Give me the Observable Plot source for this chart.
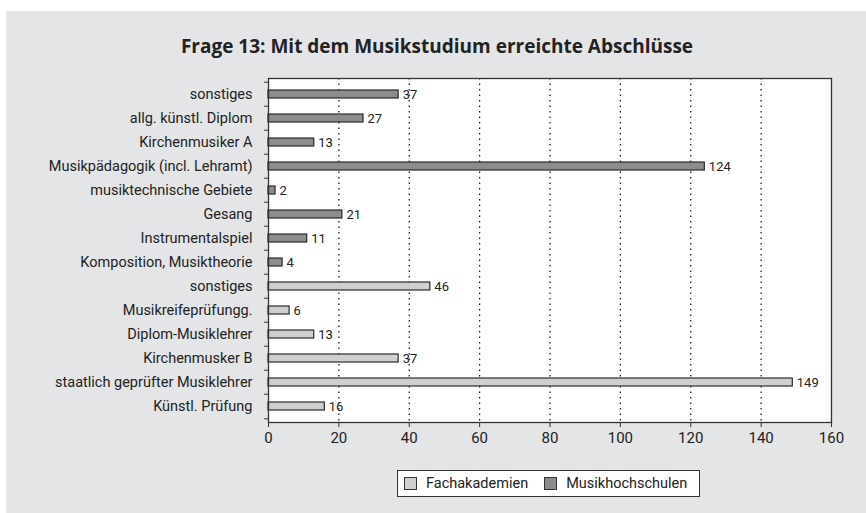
<!DOCTYPE html>
<html>
<head>
<meta charset="utf-8">
<script src="https://cdn.jsdelivr.net/npm/d3@7"></script>
<script src="https://cdn.jsdelivr.net/npm/@observablehq/plot@0.6"></script>
<style>
  html, body { margin: 0; padding: 0; background: #ffffff; width: 866px; height: 513px; overflow: hidden; }
  #panel { position: absolute; left: 6px; top: 11px; width: 860px; height: 502px; background: #e4e5e7; }
  #title { position: absolute; left: 0; top: 34px; width: 874px; text-align: center;
           font-family: "Open Sans", sans-serif; font-weight: bold; font-size: 19px; line-height: 24px; color: #222; }
  #chart { position: absolute; left: 6px; top: 62px; }
  #legend { position: absolute; left: 397px; top: 470px; width: 303px; height: 27px; box-sizing: border-box;
            border: 1px solid #333; background: #fff; display: flex; align-items: center;
            font-family: "Roboto", sans-serif; font-size: 14.5px; color: #222; }
  .item { display: flex; align-items: center; margin-left: 6px; margin-right: 10px; }
  .sw { width: 13px; height: 13px; box-sizing: border-box; border: 1px solid #333; margin-right: 9px; }
</style>
</head>
<body>
<div id="panel"></div>
<div id="title">Frage 13: Mit dem Musikstudium erreichte Abschlüsse</div>
<div id="chart"></div>
<div id="legend"></div>
<script>
// ---- data ----
const labels = [
  "sonstiges",
  "allg. künstl. Diplom",
  "Kirchenmusiker A",
  "Musikpädagogik (incl. Lehramt)",
  "musiktechnische Gebiete",
  "Gesang",
  "Instrumentalspiel",
  "Komposition, Musiktheorie",
  "sonstiges",
  "Musikreifeprüfungg.",
  "Diplom-Musiklehrer",
  "Kirchenmusker B",
  "staatlich geprüfter Musiklehrer",
  "Künstl. Prüfung"
];
const values = [37, 27, 13, 124, 2, 21, 11, 4, 46, 6, 13, 37, 149, 16];
const groups = [
  "Musikhochschulen", "Musikhochschulen", "Musikhochschulen", "Musikhochschulen",
  "Musikhochschulen", "Musikhochschulen", "Musikhochschulen", "Musikhochschulen",
  "Fachakademien", "Fachakademien", "Fachakademien", "Fachakademien", "Fachakademien", "Fachakademien"
];
const seriesNames = ["Fachakademien", "Musikhochschulen"];
const seriesColors = ["#cfcfcf", "#8c8c8c"];
const xTicks = [0, 20, 40, 60, 80, 100, 120, 140, 160];
const gridTicks = [20, 40, 60, 80, 100, 120, 140];

const keys = labels.map((_, i) => i);
const data = labels.map((label, i) => ({key: i, label, value: values[i], group: groups[i]}));

const W = 860, H = 400, mL = 262, mR = 35, mT = 16, mB = 40;
const step = (H - mT - mB) / keys.length;
const font = '"Roboto", sans-serif';

const chart = Plot.plot({
  width: W, height: H,
  marginLeft: mL, marginRight: mR, marginTop: mT, marginBottom: mB,
  style: {background: "transparent", fontFamily: font, fontSize: "14px", color: "#222"},
  x: {domain: [0, 160], label: null},
  y: {domain: keys, paddingInner: 0.66, paddingOuter: 0.33, label: null},
  color: {domain: seriesNames, range: seriesColors},
  marks: [
    Plot.frame({fill: "white", stroke: null}),
    Plot.ruleX(gridTicks, {stroke: "#111", strokeWidth: 1.2, strokeDasharray: "1.5 4"}),
    Plot.barX(data, {y: "key", x: "value", fill: "group", stroke: "#2a2a2a", strokeWidth: 1.2}),
    Plot.text(data, {y: "key", x: "value", text: d => String(d.value), textAnchor: "start", dx: 4, fontSize: 13, fill: "#222"}),
    Plot.frame({stroke: "#333", strokeWidth: 1.3}),
    Plot.axisX({ticks: xTicks, tickSize: 5, tickPadding: 5, fontSize: 15, label: null, stroke: "#333"}),
    Plot.axisY({tickSize: 0, tickPadding: 16, tickFormat: i => labels[i], fontSize: 14.5, label: null}),
    Plot.axisY({tickSize: 4, tickFormat: () => "", dy: -step / 2, label: null, stroke: "#333"}),
    Plot.axisY({ticks: [keys[keys.length - 1]], tickSize: 4, tickFormat: () => "", dy: step / 2, label: null, stroke: "#333"})
  ]
});
document.getElementById("chart").appendChild(chart);

const legend = document.getElementById("legend");
seriesNames.forEach((name, i) => {
  const item = document.createElement("div");
  item.className = "item";
  const sw = document.createElement("div");
  sw.className = "sw";
  sw.style.background = seriesColors[i];
  item.appendChild(sw);
  item.appendChild(document.createTextNode(name));
  legend.appendChild(item);
});
</script>
</body>
</html>
